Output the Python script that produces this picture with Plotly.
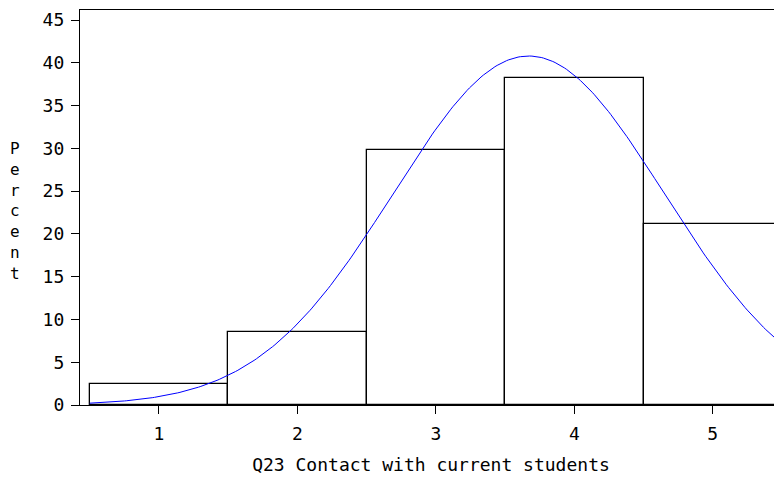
import numpy as np
import plotly.graph_objects as go

# histogram of Q23 (percent per response category)
categories = [1, 2, 3, 4, 5]
percents = [2.4, 8.5, 29.8, 38.2, 21.1]

# fitted normal curve parameters
mu = 3.671
sigma = 0.978
curve_range = [0.5, 5.5]

tick_vals_y = [0, 5, 10, 15, 20, 25, 30, 35, 40, 45]

xs = np.linspace(curve_range[0], curve_range[1], 300)
ys = 100 * np.exp(-0.5 * ((xs - mu) / sigma) ** 2) / (sigma * np.sqrt(2 * np.pi))

fig = go.Figure()
fig.add_trace(go.Bar(
    x=categories, y=percents, width=1,
    marker=dict(color="white", line=dict(color="black", width=1.3)),
))
fig.add_trace(go.Scatter(x=xs, y=ys, mode="lines",
                         line=dict(color="#0000ff", width=1)))

# page body has an 8px default margin, so the figure is shrunk to fit
fig.update_layout(
    width=774, height=467,
    margin=dict(l=72, r=0, t=2, b=70),
    plot_bgcolor="white", paper_bgcolor="white",
    showlegend=False, bargap=0,
    font=dict(family="DejaVu Sans Mono", color="black", size=18),
)
fig.update_xaxes(
    range=[0.43, 5.5], tickvals=categories, ticks="outside", ticklen=8,
    ticklabelstandoff=4,
    tickcolor="black", showline=True, linecolor="black", linewidth=1.3,
    mirror=True, showgrid=False, zeroline=False,
    title=dict(text="Q23 Contact with current students",
               font=dict(family="DejaVu Sans Mono", size=18), standoff=20),
)
fig.update_yaxes(
    range=[0, 46.17], tickvals=tick_vals_y, ticks="outside", ticklen=8,
    ticklabelstandoff=3,
    tickcolor="black", showline=True, linecolor="black", linewidth=1.3,
    showgrid=False, zeroline=False,
)
fig.add_annotation(
    text="P<br>e<br>r<br>c<br>e<br>n<br>t", xref="paper", yref="paper",
    x=-0.093, y=0.49, showarrow=False, xanchor="center", yanchor="middle",
    font=dict(family="DejaVu Sans Mono", size=16),
)

fig.write_html("out.html")
